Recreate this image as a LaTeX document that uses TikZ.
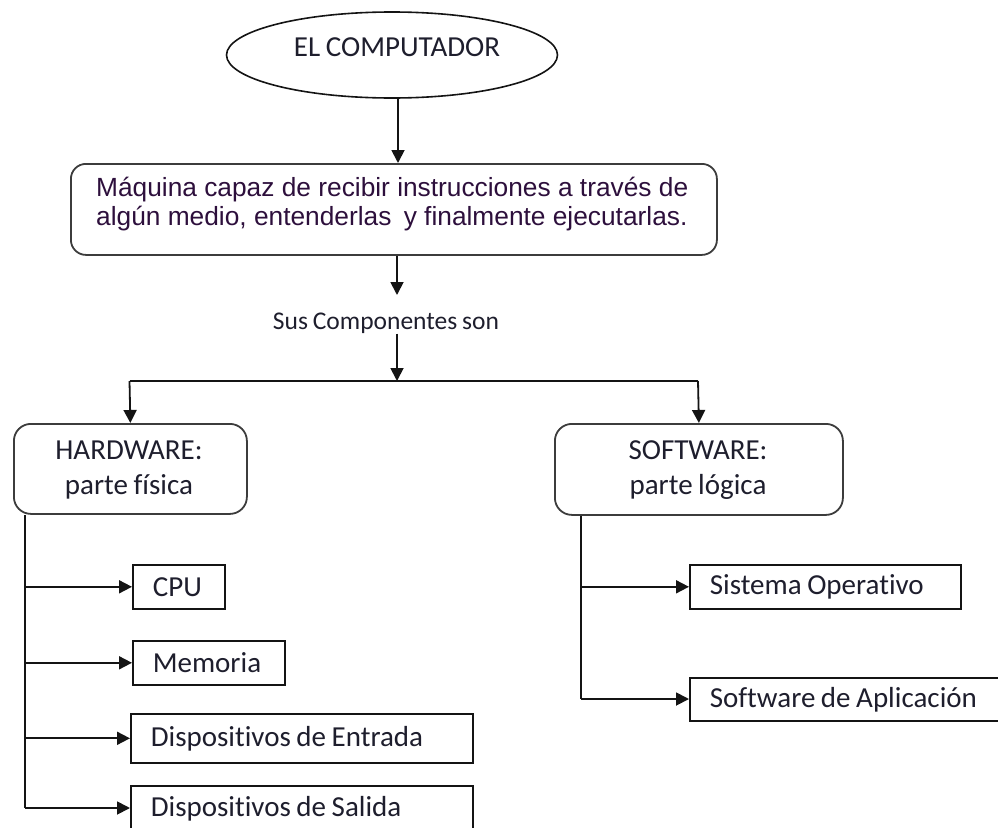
\documentclass[tikz,border=0pt]{standalone}
\usepackage{fontspec}
\setmainfont{Carlito}
\newfontfamily\calfont[Ligatures=NoCommon,WordSpace={0.85}]{Carlito}
\newfontfamily\arifont{Liberation Sans}
\usetikzlibrary{arrows.meta,shapes.geometric}
\definecolor{edgecol}{RGB}{60,60,60}
\definecolor{linecol}{RGB}{20,20,20}
\definecolor{txtcol}{RGB}{30,30,45}
\definecolor{purptxt}{RGB}{45,15,60}
\tikzset{
  arr/.style={draw=linecol, line width=1.8pt, -{Triangle[length=13pt,width=13pt]}},
  plain/.style={draw=linecol, line width=1.8pt},
  roundbox/.style={draw=edgecol, line width=1.8pt, rounded corners=17pt, anchor=north west, inner sep=0pt},
  leaf/.style={draw=linecol, line width=1.6pt, anchor=north west, inner xsep=20pt, inner ysep=0pt,
     minimum height=44pt, align=left, font=\calfont\fontsize{29}{32}\selectfont, text=txtcol,
     execute at begin node={\spaceskip=0pt\xspaceskip=0pt\relax}},
  lbl/.style={font=\calfont\fontsize{29}{35}\selectfont, text=txtcol, align=center, inner sep=0pt,
     execute at begin node={\spaceskip=0pt\xspaceskip=0pt\relax}}
}
\begin{document}
\begin{tikzpicture}[x=1pt,y=-1pt]
\clip (0,0) rectangle (998,827);
% top ellipse
\node[ellipse, draw=linecol, line width=1.6pt, minimum width=331pt, minimum height=86pt, inner sep=0pt] (ell) at (392,55) {};
\node[lbl] (elltxt) at (397,47) {EL COMPUTADOR};
% main definition box
\node[roundbox, minimum width=646pt, minimum height=91pt, rounded corners=15pt] (main) at (70,163) {};
\node[anchor=west, align=left, inner sep=0pt, text=purptxt, font=\arifont\fontsize{26.3}{28.5}\selectfont,
  execute at begin node={\spaceskip=0pt\xspaceskip=0pt\relax}] (mtext) at (96,204)
  {Máquina capaz de recibir instrucciones a través de\\algún medio, entenderlas\hspace{5pt} y finalmente ejecutarlas.};
% label
\node[lbl, font=\calfont\fontsize{25.5}{30}\selectfont] (sus) at (386,323) {Sus Componentes son};
% top-level boxes
\node[roundbox, minimum width=233pt, minimum height=90pt] (hw) at (13,423) {};
\node[lbl] (hwt) at (129,470) {HARDWARE:\\parte física};
\node[roundbox, minimum width=288pt, minimum height=91pt] (sw) at (554,423) {};
\node[lbl] (swt) at (698,470) {SOFTWARE:\\parte lógica};
% hardware leaves
\node[leaf, text width=52pt] (cpu) at (132,564) {CPU};
\node[leaf, text width=112pt] (mem) at (132,640) {Memoria};
\node[leaf, text width=302pt, minimum height=49pt] (ent) at (130,713) {Dispositivos de Entrada};
\node[leaf, text width=302pt, minimum height=46pt] (sal) at (130,785) {Dispositivos de Salida};
% software leaves
\node[leaf, text width=231pt] (so) at (689,564) {Sistema Operativo};
\node[leaf, text width=300pt, minimum height=43pt] (apl) at (689,677) {Software de Aplicación};
% coordinates
\coordinate (a1) at (397,295);
\coordinate (jn) at (397,381);
\coordinate (hl) at (129.5,381);
\coordinate (hr) at (698,381);
\coordinate (hwb) at (25,808);
\coordinate (swb) at (581,699);
\coordinate (e1) at (398,98);
% connectors
\draw[arr] (e1) -- (main.north -| e1);
\draw[arr] (main.south -| a1) -- (a1);
\draw[arr] (sus.south -| a1) -- (jn);
\draw[plain] (hl) -- (hr);
\draw[arr] (hl) -- (hw.north);
\draw[arr] (hr) -- (sw.north);
\draw[plain] (hw.south -| hwb) -- (hwb);
\draw[arr] (cpu.west -| hwb) -- (cpu.west);
\draw[arr] (mem.west -| hwb) -- (mem.west);
\draw[arr] (ent.west -| hwb) -- (ent.west);
\draw[arr] (hwb) -- (sal.west |- hwb);
\draw[plain] (sw.south -| swb) -- (swb);
\draw[arr] (so.west -| swb) -- (so.west);
\draw[arr] (swb) -- (apl.west |- swb);
\end{tikzpicture}
\end{document}
